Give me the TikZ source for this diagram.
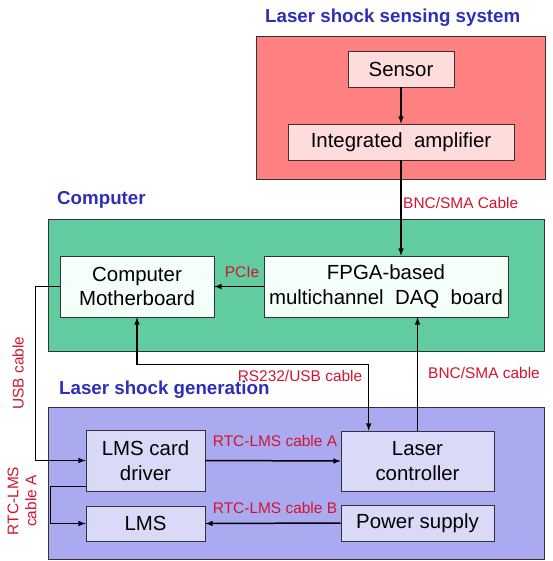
\documentclass[tikz,border=0pt]{standalone}
\usepackage{fontspec}
\setmainfont{Liberation Sans}
\usepackage{tikz}

\definecolor{sensefill}{RGB}{255,128,128}
\definecolor{senseinner}{RGB}{255,220,220}
\definecolor{compfill}{RGB}{96,204,160}
\definecolor{compinner}{RGB}{245,255,250}
\definecolor{genfill}{RGB}{170,170,240}
\definecolor{geninner}{RGB}{218,218,248}
\definecolor{titleblue}{RGB}{46,46,184}
\definecolor{labelred}{RGB}{210,20,50}

\tikzset{
  group/.style={draw=black!80, line width=0.8pt, inner sep=0pt},
  block/.style={draw=black!80, line width=0.6pt, inner sep=0pt, align=center,
    font=\fontsize{20.5}{25}\selectfont},
  title/.style={text=titleblue, font=\fontsize{18.8}{22}\selectfont\bfseries, inner sep=0pt},
  cable/.style={text=labelred, font=\fontsize{15.5}{18}\selectfont, inner sep=0pt, align=center},
  link/.style={black, line width=1.5pt, -latex}
}

\begin{document}
\begin{tikzpicture}[x=1bp, y=-1bp]
        \useasboundingbox (0,0) rectangle (553,561);
        % sensing system
        \node [group, fill=sensefill, minimum width=289bp, minimum height=143bp] (sensegrp) at (400.5,107.5) {};
        \node [title, anchor=west] (sensetitle) at (265,18) {Laser shock sensing system};
        \node [block, fill=senseinner, minimum width=106bp, minimum height=36bp] (sensor) at (401,69) {Sensor};
        \node [block, fill=senseinner, minimum width=226bp, minimum height=36bp] (amp) at (401,142) {Integrated\ \ amplifier};
        % computer
        \node [group, fill=compfill, minimum width=496bp, minimum height=132bp] (compgrp) at (296,285) {};
        \node [title, anchor=west] (comptitle) at (57,200) {Computer};
        \node [block, fill=compinner, minimum width=154bp, minimum height=61bp] (mb) at (137,286.5) {Computer\\Motherboard};
        \node [block, fill=compinner, minimum width=244bp, minimum height=61bp] (fpga) at (386,286.5) {FPGA-based\\multichannel\ \ DAQ\ \ board};
        % generation
        \node [group, fill=genfill, minimum width=496bp, minimum height=152bp] (gengrp) at (296,483) {};
        \node [title, anchor=west] (gentitle) at (59,390) {Laser shock generation};
        \node [block, fill=geninner, minimum width=119bp, minimum height=61bp] (lmsdrv) at (145.5,460.5) {LMS\ card\\driver};
        \node [block, fill=geninner, minimum width=119bp, minimum height=35bp] (lms) at (145.5,523.5) {LMS};
        \node [block, fill=geninner, minimum width=153bp, minimum height=60bp] (laser) at (417.5,461) {Laser\\controller};
        \node [block, fill=geninner, minimum width=153bp, minimum height=36bp] (psu) at (417.5,523) {Power supply};
        % cables
        \draw [link] (sensor.south) -- (amp.north);
        \draw [link] (amp.south) -- (amp.south |- fpga.north);
        \draw [link] (fpga.west) -- (mb.east);
        \draw [link] (laser.north) -- (laser.north |- fpga.south);
        \draw [link, latex-latex] (mb.south) -- ++(0,47) -| ([xshift=28bp]laser.north west);
        \draw [link] (mb.west) -- ++(-24,0) |- (lmsdrv.west);
        \draw [link] ([yshift=5bp]lmsdrv.south west) -- ++(-35,0) |- (lms.west);
        \draw [link] (lmsdrv.east) -- (laser.west);
        \draw [link] (psu.west) -- (lms.east);
        % cable labels
        \node [cable, anchor=west] (bnc1) at (403,203) {BNC/SMA Cable};
        \node [cable] (pcie) at (242,272) {PCIe};
        \node [cable] (rs232) at (300,376) {RS232/USB cable};
        \node [cable] (bnc2) at (484,373) {BNC/SMA cable};
        \node [cable] (rtca) at (275,441) {RTC-LMS cable A};
        \node [cable] (rtcb) at (275,508) {RTC-LMS cable B};
        \node [cable, rotate=90] (usb) at (18,373) {USB cable};
        \node [cable, rotate=90] (rtcleft) at (22,501) {RTC-LMS\\cable A};
\end{tikzpicture}
\end{document}
